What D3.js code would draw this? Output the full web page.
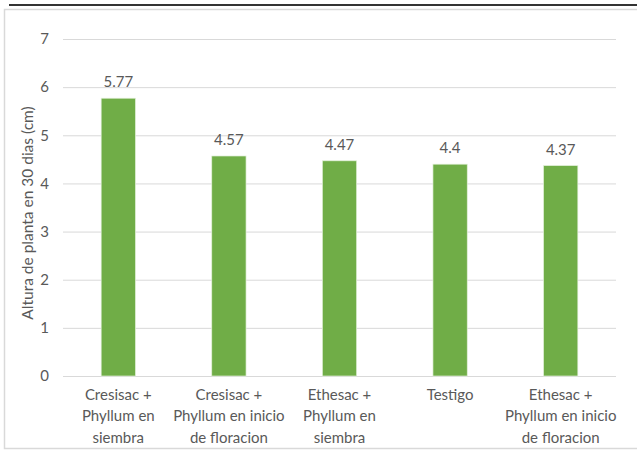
<!DOCTYPE html>
<html><head><meta charset="utf-8">
<script src="https://cdn.jsdelivr.net/npm/d3@7"></script>
<style>body{margin:0;background:#fff}svg text{font-family:Lato,"Open Sans",sans-serif;fill:#595959}</style>
</head><body><svg id="c" width="637" height="450"></svg>
<script>
const categories = [
  ["Cresisac +","Phyllum en","siembra"],
  ["Cresisac +","Phyllum en inicio","de floracion"],
  ["Ethesac +","Phyllum en","siembra"],
  ["Testigo"],
  ["Ethesac +","Phyllum en inicio","de floracion"]
];
const values = [5.77, 4.57, 4.47, 4.4, 4.37];
const valueLabels = ["5.77","4.57","4.47","4.4","4.37"];
const yTicks = [0,1,2,3,4,5,6,7];
const yTitle = "Altura de planta en 30 dias (cm)";

const svg = d3.select("#c");
svg.append("line").attr("x1",9).attr("x2",637).attr("y1",5).attr("y2",5)
  .attr("stroke","#333").attr("stroke-width",2);
svg.append("rect").attr("x",4.5).attr("y",9.5).attr("width",640).attr("height",439)
  .attr("fill","none").attr("stroke","#d9d9d9").attr("stroke-width",1.5);

const x = d3.scaleBand().domain(d3.range(categories.length)).range([63,616]).paddingInner(0.69).paddingOuter(0.345);
const y = d3.scaleLinear().domain([0,7]).range([376,39]);

const g = svg.append("g");
g.selectAll("line.grid").data(yTicks).join("line")
  .attr("x1",63).attr("x2",616).attr("y1",d=>y(d)+0.5).attr("y2",d=>y(d)+0.5)
  .attr("stroke","#d9d9d9").attr("stroke-width",1);

g.selectAll("text.yt").data(yTicks).join("text")
  .attr("x",49).attr("y",d=>y(d)).attr("dy","0.35em").attr("text-anchor","end")
  .style("font-size","15px").text(d=>d);

g.selectAll("rect.bar").data(values).join("rect")
  .attr("x",(d,i)=>x(i)).attr("width",x.bandwidth())
  .attr("y",d=>y(d)).attr("height",d=>y(0)-y(d))
  .attr("fill","#70AD47").attr("stroke","#e2f0d9").attr("stroke-width",0.7);

g.selectAll("text.vl").data(values).join("text")
  .attr("x",(d,i)=>x(i)+x.bandwidth()/2).attr("y",d=>y(d)-11)
  .attr("text-anchor","middle").style("font-size","15px").text((d,i)=>valueLabels[i]);

categories.forEach((lines,i)=>{
  const t = g.append("text").attr("text-anchor","middle").style("font-size","15px");
  lines.forEach((l,j)=>{
    t.append("tspan").attr("x",x(i)+x.bandwidth()/2).attr("y",400+j*21.3).text(l);
  });
});

svg.append("text").attr("transform","translate(33,213) rotate(-90)")
  .attr("text-anchor","middle").style("font-size","15.5px").text(yTitle);
</script></body></html>
